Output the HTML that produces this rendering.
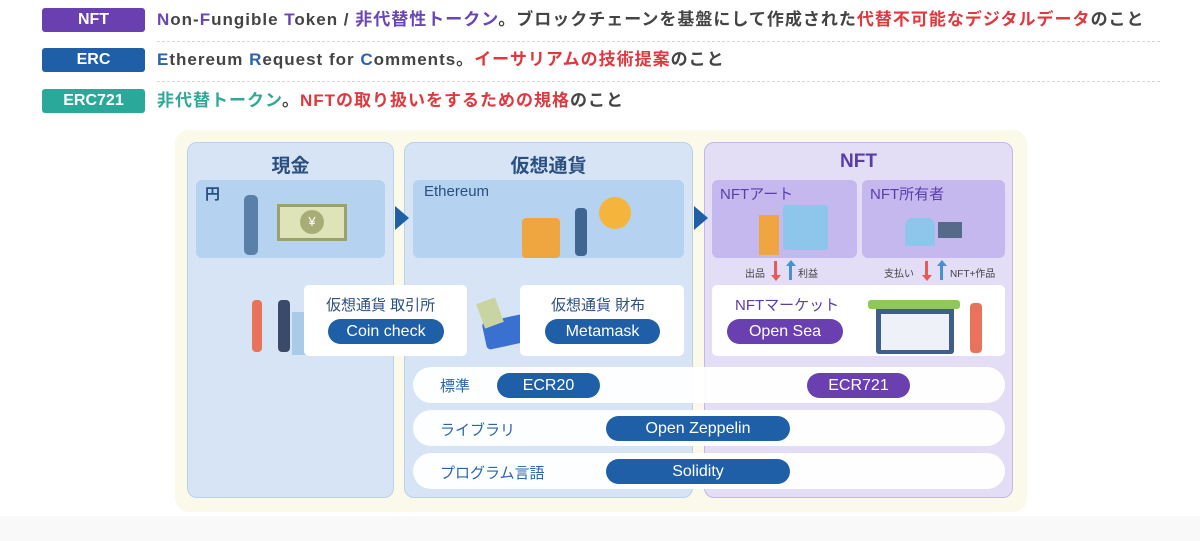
<!DOCTYPE html>
<html><head><meta charset="utf-8"><style>
*{margin:0;padding:0;box-sizing:border-box}
body{width:1200px;height:541px;background:#fff;position:relative;overflow:hidden;font-family:"Liberation Sans","Noto Sans CJK JP",sans-serif;color:#333}
.a{position:absolute}
.badge{position:absolute;left:42px;width:103px;height:24px;border-radius:3px;color:#fff;font-weight:bold;font-size:16px;text-align:center;line-height:24px}
.line{position:absolute;left:157px;font-size:17px;font-weight:bold;color:#444;white-space:nowrap;line-height:24px;letter-spacing:1px}
.dot{position:absolute;left:157px;width:1003px;border-top:1px dashed #d8d8d8}
.pu{color:#6a45b5}.bl{color:#2a64ad}.rd{color:#e0383e}.tl{color:#2fa898}
.col{position:absolute;top:142px;height:356px;border-radius:10px}
.ttl{position:absolute;top:8px;left:0;right:0;text-align:center;font-size:19px;font-weight:bold}
.inner{position:absolute;border-radius:6px}
.wb{position:absolute;background:#fff;border-radius:5px}
.pill{position:absolute;height:25px;border-radius:13px;color:#fff;font-size:16px;text-align:center;line-height:25px}
.row{position:absolute;left:413px;width:592px;height:36px;background:#fff;border-radius:18px;opacity:.95}
.lbl{position:absolute;font-size:15px;color:#2a64ad}
.tri{position:absolute;width:0;height:0;border-top:12px solid transparent;border-bottom:12px solid transparent;border-left:14px solid #1f5fa8}
.sm{position:absolute;font-size:10px;color:#444}
.arr{position:absolute;width:3px;height:18px}
.hd{position:absolute;width:0;height:0;border-left:5px solid transparent;border-right:5px solid transparent}
</style></head><body>
<div class="badge" style="top:8px;background:#6a3fb0">NFT</div>
<div class="line" style="top:8px"><span class="pu">N</span>on-<span class="pu">F</span>ungible <span class="pu">T</span>oken / <span class="pu">非代替性トークン</span>。ブロックチェーンを基盤にして作成された<span class="rd">代替不可能なデジタルデータ</span>のこと</div>
<div class="dot" style="top:41px"></div>
<div class="badge" style="top:48px;background:#1f5fa8">ERC</div>
<div class="line" style="top:48px"><span class="bl">E</span>thereum <span class="bl">R</span>equest for <span class="bl">C</span>omments。<span class="rd">イーサリアムの技術提案</span>のこと</div>
<div class="dot" style="top:81px"></div>
<div class="badge" style="top:89px;background:#2aa89a">ERC721</div>
<div class="line" style="top:89px"><span class="tl">非代替トークン</span>。<span class="rd">NFTの取り扱いをするための規格</span>のこと</div>

<div class="a" style="left:0;top:516px;width:1200px;height:25px;background:#f9f9f9"></div>
<div class="a" style="left:175px;top:130px;width:852px;height:382px;background:#fbf9ea;border-radius:14px"></div>

<div class="col" style="left:187px;width:207px;background:#d6e4f5;border:1px solid #bcd0ea"><div class="ttl" style="color:#2a4f80">現金</div></div>
<div class="col" style="left:404px;width:289px;background:#d6e4f5;border:1px solid #bcd0ea"><div class="ttl" style="color:#2a4f80">仮想通貨</div></div>
<div class="col" style="left:704px;width:309px;background:#e3ddf5;border:1px solid #c4b7e8"><div class="ttl" style="color:#5a3ea8">NFT</div></div>

<div class="inner" style="left:196px;top:180px;width:189px;height:78px;background:#b5d2f1"><div class="a" style="left:9px;top:3px;font-size:15px;color:#2a4f80;font-weight:bold">円</div></div>
<div class="a" style="left:277px;top:204px;width:70px;height:37px;background:#dfe3b8;border:3px solid #9aa070"></div>
<div class="a" style="left:300px;top:210px;width:24px;height:24px;border-radius:50%;background:#a8ad78;color:#fff;font-size:13px;text-align:center;line-height:24px">¥</div>
<div class="a" style="left:244px;top:195px;width:14px;height:60px;background:#5a7fa8;border-radius:5px"></div>

<div class="inner" style="left:413px;top:180px;width:271px;height:78px;background:#b5d2f1"><div class="a" style="left:11px;top:3px;font-size:15px;color:#2a4f80">Ethereum</div></div>
<div class="a" style="left:522px;top:218px;width:38px;height:40px;background:#f0a640;border-radius:4px"></div>
<div class="a" style="left:599px;top:197px;width:32px;height:32px;border-radius:50%;background:#f5b43c"></div>
<div class="a" style="left:575px;top:208px;width:12px;height:48px;background:#3f6690;border-radius:4px"></div>

<div class="inner" style="left:712px;top:180px;width:145px;height:78px;background:#c5b8ef"><div class="a" style="left:8px;top:3px;font-size:15px;color:#5a3ea8">NFTアート</div></div>
<div class="a" style="left:783px;top:205px;width:45px;height:45px;background:#8ec5ea;border-radius:3px"></div>
<div class="a" style="left:759px;top:215px;width:20px;height:40px;background:#f0a640"></div>
<div class="inner" style="left:862px;top:180px;width:143px;height:78px;background:#c5b8ef"><div class="a" style="left:8px;top:3px;font-size:15px;color:#5a3ea8">NFT所有者</div></div>
<div class="a" style="left:905px;top:218px;width:30px;height:28px;background:#8ec5ea;border-radius:8px 8px 0 0"></div>
<div class="a" style="left:938px;top:222px;width:24px;height:16px;background:#566a8a"></div>

<div class="tri" style="left:395px;top:206px"></div>
<div class="tri" style="left:694px;top:206px"></div>

<div class="sm" style="left:745px;top:265px">出品</div>
<div class="arr" style="left:774px;top:261px;height:14px;background:#e85a5a"></div><div class="hd" style="left:771px;top:275px;border-top:6px solid #e85a5a"></div>
<div class="arr" style="left:789px;top:266px;height:14px;background:#4a90d0"></div><div class="hd" style="left:786px;top:260px;border-bottom:6px solid #4a90d0"></div>
<div class="sm" style="left:798px;top:265px">利益</div>
<div class="sm" style="left:884px;top:265px">支払い</div>
<div class="arr" style="left:925px;top:261px;height:14px;background:#e85a5a"></div><div class="hd" style="left:922px;top:275px;border-top:6px solid #e85a5a"></div>
<div class="arr" style="left:940px;top:266px;height:14px;background:#4a90d0"></div><div class="hd" style="left:937px;top:260px;border-bottom:6px solid #4a90d0"></div>
<div class="sm" style="left:950px;top:265px">NFT+作品</div>

<div class="a" style="left:292px;top:312px;width:27px;height:43px;background:#a9cbe8"></div>
<div class="a" style="left:252px;top:300px;width:10px;height:52px;background:#e8735a;border-radius:4px"></div>
<div class="a" style="left:278px;top:300px;width:12px;height:52px;background:#3c4a6a;border-radius:4px"></div>
<div class="wb" style="left:304px;top:285px;width:163px;height:71px"></div>
<div class="a" style="left:326px;top:294px;font-size:15px;color:#2a4f80">仮想通貨 取引所</div>
<div class="pill" style="left:328px;top:319px;width:116px;background:#1f5fa8">Coin check</div>

<div class="a" style="left:484px;top:318px;width:42px;height:28px;background:#3a70d0;border-radius:4px;transform:rotate(-12deg)"></div>
<div class="a" style="left:480px;top:300px;width:20px;height:26px;background:#c9d4a0;transform:rotate(-20deg)"></div>
<div class="wb" style="left:520px;top:285px;width:164px;height:71px"></div>
<div class="a" style="left:551px;top:294px;font-size:15px;color:#2a4f80">仮想通貨 財布</div>
<div class="pill" style="left:545px;top:319px;width:115px;background:#1f5fa8">Metamask</div>

<div class="wb" style="left:712px;top:285px;width:293px;height:71px"></div>
<div class="a" style="left:735px;top:294px;font-size:15px;color:#5a3ea8">NFTマーケット</div>
<div class="pill" style="left:727px;top:319px;width:116px;background:#6a3fb0">Open Sea</div>
<div class="a" style="left:876px;top:306px;width:78px;height:48px;background:#3f5f8a;border-radius:3px"></div>
<div class="a" style="left:881px;top:314px;width:68px;height:36px;background:#eef2f8"></div>
<div class="a" style="left:868px;top:300px;width:92px;height:9px;background:#8fc85a;border-radius:3px"></div>
<div class="a" style="left:970px;top:303px;width:12px;height:50px;background:#e8735a;border-radius:4px"></div>

<div class="row" style="top:367px"></div>
<div class="lbl" style="left:440px;top:375px">標準</div>
<div class="pill" style="left:497px;top:373px;width:103px;background:#1f5fa8">ECR20</div>
<div class="pill" style="left:807px;top:373px;width:103px;background:#6a3fb0">ECR721</div>
<div class="row" style="top:410px"></div>
<div class="lbl" style="left:440px;top:419px">ライブラリ</div>
<div class="pill" style="left:606px;top:416px;width:184px;background:#1f5fa8">Open Zeppelin</div>
<div class="row" style="top:453px"></div>
<div class="lbl" style="left:440px;top:462px">プログラム言語</div>
<div class="pill" style="left:606px;top:459px;width:184px;background:#1f5fa8">Solidity</div>
</body></html>
